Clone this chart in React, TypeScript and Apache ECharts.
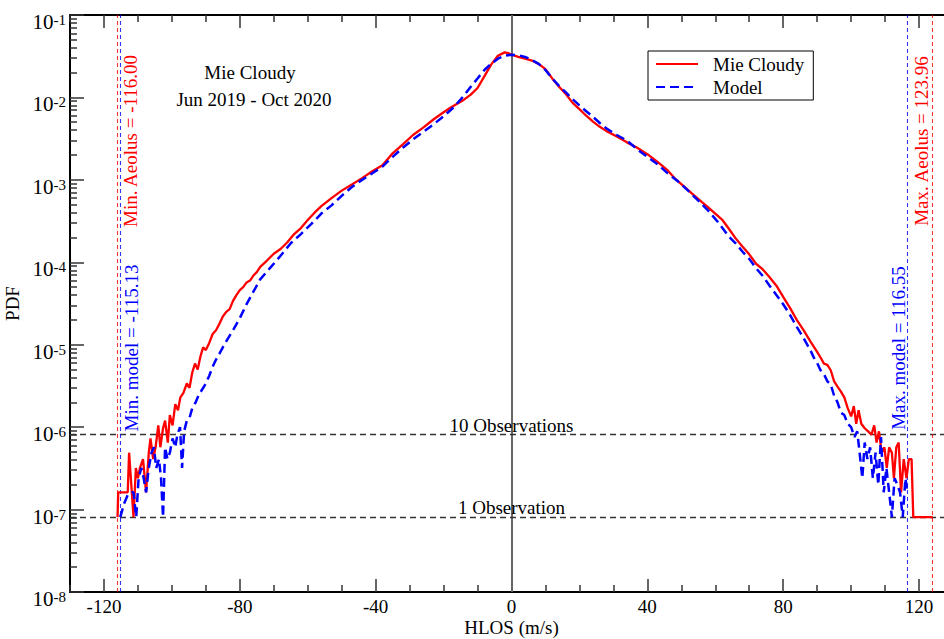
import React, { useEffect, useRef } from 'react';
import * as echarts from 'echarts';

const FONT = '"Liberation Serif", "Times New Roman", serif';

// [HLOS (m/s), PDF]
const mieCloudy: [number, number][] = [
  [-116.0, 8.1e-8], [-115.8, 1.62e-7], [-113.0, 1.62e-7], [-112.6, 4.9e-7], [-111.8, 1.62e-7], [-111.3, 8.1e-8],
  [-110.6, 3.2e-7], [-110.0, 2.4e-7], [-109.4, 3.2e-7], [-108.5, 4.1e-7], [-107.6, 1.62e-7], [-106.8, 4.9e-7],
  [-106.3, 7.3e-7], [-105.5, 4.1e-7], [-104.8, 5.7e-7], [-104.0, 1.05e-6], [-103.4, 5.7e-7], [-102.6, 9.7e-7],
  [-102.0, 1.2e-6], [-101.2, 6.5e-7], [-100.6, 1.4e-6], [-99.8, 1.05e-6], [-99.0, 1.9e-6], [-98.2, 1.6e-6],
  [-97.5, 2.3e-6], [-96.6, 2.6e-6], [-95.6, 3.4e-6], [-94.8, 3.0e-6], [-94.0, 4.6e-6], [-93.2, 5.9e-6],
  [-92.4, 5.0e-6], [-91.6, 7.2e-6], [-90.8, 9.3e-6], [-90.0, 8.6e-6], [-89.0, 1.05e-5], [-88.0, 1.35e-5],
  [-87.0, 1.5e-5], [-86.0, 1.8e-5], [-85.0, 2.2e-5], [-84.0, 2.5e-5], [-83.0, 2.7e-5], [-82.0, 3.4e-5],
  [-81.0, 4.0e-5], [-80.0, 4.6e-5], [-79.0, 5.0e-5], [-78.0, 5.7e-5], [-77.0, 6.0e-5], [-76.0, 6.9e-5],
  [-75.0, 7.6e-5], [-74.0, 8.8e-5], [-72.0, 1.05e-4], [-70.0, 1.27e-4], [-68.0, 1.45e-4], [-66.0, 1.75e-4],
  [-64.0, 2.2e-4], [-62.0, 2.6e-4], [-60.0, 3.25e-4], [-58.0, 4.0e-4], [-56.0, 4.8e-4], [-53.0, 6.0e-4],
  [-50.0, 7.4e-4], [-47.0, 8.8e-4], [-44.0, 1.05e-3], [-41.0, 1.27e-3], [-38.0, 1.5e-3], [-35.0, 2.1e-3],
  [-32.0, 2.7e-3], [-29.0, 3.5e-3], [-26.0, 4.3e-3], [-23.0, 5.4e-3], [-20.0, 6.6e-3], [-18.0, 7.5e-3],
  [-16.0, 8.4e-3], [-14.0, 9.4e-3], [-12.0, 1.08e-2], [-10.0, 1.3e-2], [-8.0, 1.8e-2], [-6.0, 2.5e-2],
  [-4.0, 3.2e-2], [-2.0, 3.52e-2], [-1.0, 3.45e-2], [0.0, 3.3e-2], [2.0, 3.1e-2], [4.0, 2.95e-2],
  [6.0, 2.8e-2], [8.0, 2.55e-2], [10.0, 2.2e-2], [12.0, 1.7e-2], [14.0, 1.35e-2], [16.0, 1.1e-2],
  [18.0, 8.6e-3], [20.0, 7.2e-3], [22.0, 6.0e-3], [24.0, 5.1e-3], [26.0, 4.4e-3], [28.0, 3.9e-3],
  [31.0, 3.35e-3], [34.0, 2.85e-3], [37.0, 2.45e-3], [40.0, 2.05e-3], [43.0, 1.65e-3], [46.0, 1.3e-3],
  [48.0, 1.05e-3], [50.0, 8.9e-4], [53.0, 6.9e-4], [56.0, 5.4e-4], [58.0, 4.6e-4], [60.0, 3.9e-4],
  [62.0, 3.3e-4], [64.0, 2.55e-4], [66.0, 1.95e-4], [68.0, 1.55e-4], [70.0, 1.25e-4], [72.0, 9.6e-5],
  [74.0, 8.2e-5], [76.0, 6.6e-5], [78.0, 5.2e-5], [80.0, 3.8e-5], [82.0, 2.8e-5], [84.0, 2.0e-5],
  [86.0, 1.5e-5], [88.0, 1.1e-5], [89.0, 9.5e-6], [90.0, 8.2e-6], [91.0, 7.0e-6], [92.0, 5.9e-6],
  [93.0, 5.7e-6], [94.0, 4.9e-6], [95.0, 3.6e-6], [96.0, 3.1e-6], [97.0, 2.7e-6], [98.0, 2.3e-6],
  [99.0, 1.7e-6], [100.0, 1.35e-6], [100.8, 1.8e-6], [101.5, 1.1e-6], [102.2, 1.6e-6], [103.0, 1.1e-6],
  [104.0, 9.7e-7], [105.0, 8.9e-7], [106.0, 8.1e-7], [106.8, 1.05e-6], [107.5, 6.5e-7], [108.2, 8.9e-7],
  [109.0, 4.9e-7], [109.8, 5.7e-7], [110.5, 3.2e-7], [111.2, 5.7e-7], [112.0, 4.9e-7], [112.6, 2.4e-7],
  [113.3, 5.7e-7], [114.0, 6.5e-7], [114.7, 1.62e-7], [115.5, 4.1e-7], [116.3, 2.4e-7], [117.0, 4.1e-7],
  [117.8, 4.1e-7], [118.3, 8.1e-8], [124.0, 8.1e-8],
];

const model: [number, number][] = [
  [-115.2, 8.1e-8], [-114.0, 1.2e-7], [-113.0, 1.5e-7], [-112.0, 1.62e-7], [-111.3, 1.62e-7], [-110.5, 8.1e-8],
  [-109.8, 2.4e-7], [-109.0, 3.2e-7], [-108.3, 2.4e-7], [-107.6, 1.62e-7], [-106.8, 3.2e-7], [-106.0, 4.9e-7],
  [-105.3, 5.7e-7], [-104.6, 3.2e-7], [-103.8, 4.1e-7], [-103.2, 2.4e-7], [-102.6, 8.1e-8], [-102.0, 5.7e-7],
  [-101.3, 4.1e-7], [-100.6, 4.9e-7], [-99.8, 7.3e-7], [-99.0, 5.7e-7], [-98.4, 8.1e-7], [-97.6, 1.0e-6],
  [-97.0, 3.2e-7], [-96.4, 8.9e-7], [-95.6, 1.2e-6], [-94.8, 1.3e-6], [-94.0, 1.7e-6], [-93.0, 2.0e-6],
  [-92.0, 2.5e-6], [-91.0, 2.9e-6], [-90.0, 3.4e-6], [-89.0, 4.2e-6], [-88.0, 5.4e-6], [-87.0, 6.6e-6],
  [-86.0, 7.8e-6], [-85.0, 9.3e-6], [-84.0, 1.1e-5], [-82.0, 1.5e-5], [-80.0, 2.1e-5], [-78.0, 3.1e-5],
  [-76.0, 4.4e-5], [-74.0, 6.2e-5], [-71.0, 8.6e-5], [-68.0, 1.2e-4], [-65.0, 1.7e-4], [-62.0, 2.2e-4],
  [-59.0, 2.9e-4], [-56.0, 3.9e-4], [-53.0, 4.9e-4], [-50.0, 6.4e-4], [-47.0, 8.2e-4], [-44.0, 1.0e-3],
  [-41.0, 1.2e-3], [-38.0, 1.45e-3], [-35.0, 1.9e-3], [-32.0, 2.45e-3], [-29.0, 3.1e-3], [-26.0, 3.8e-3],
  [-23.0, 4.7e-3], [-20.0, 5.9e-3], [-17.0, 7.6e-3], [-14.0, 1.05e-2], [-12.0, 1.35e-2], [-10.0, 1.7e-2],
  [-8.0, 2.15e-2], [-6.0, 2.55e-2], [-4.0, 2.95e-2], [-2.0, 3.2e-2], [0.0, 3.3e-2], [2.0, 3.25e-2],
  [4.0, 3.1e-2], [6.0, 2.85e-2], [8.0, 2.55e-2], [10.0, 2.15e-2], [12.0, 1.7e-2], [14.0, 1.38e-2],
  [16.0, 1.15e-2], [18.0, 9.5e-3], [20.0, 8.0e-3], [22.0, 6.8e-3], [24.0, 5.8e-3], [26.0, 4.9e-3],
  [28.0, 4.2e-3], [31.0, 3.5e-3], [34.0, 3.0e-3], [37.0, 2.35e-3], [40.0, 1.9e-3], [43.0, 1.55e-3],
  [46.0, 1.2e-3], [49.0, 9.6e-4], [52.0, 7.4e-4], [55.0, 5.6e-4], [58.0, 4.2e-4], [61.0, 3.0e-4],
  [64.0, 2.05e-4], [66.0, 1.7e-4], [68.0, 1.35e-4], [70.0, 1.1e-4], [72.0, 8.5e-5], [74.0, 6.8e-5],
  [76.0, 5.2e-5], [78.0, 4.0e-5], [80.0, 3.1e-5], [82.0, 2.3e-5], [84.0, 1.65e-5], [86.0, 1.2e-5],
  [88.0, 8.6e-6], [89.0, 7.0e-6], [90.0, 6.0e-6], [91.0, 4.9e-6], [92.0, 4.4e-6], [93.0, 3.6e-6],
  [94.0, 3.3e-6], [95.0, 2.4e-6], [96.0, 2.0e-6], [97.0, 1.5e-6], [98.0, 1.4e-6], [99.0, 1.1e-6],
  [100.0, 1.0e-6], [101.0, 7.6e-7], [101.8, 8.9e-7], [102.5, 4.9e-7], [103.3, 2.4e-7], [104.0, 6.5e-7],
  [104.8, 4.1e-7], [105.6, 5.7e-7], [106.4, 2.4e-7], [107.2, 4.9e-7], [108.0, 2.0e-7], [108.8, 7.6e-7],
  [109.6, 1.62e-7], [110.4, 3.2e-7], [111.2, 1.62e-7], [112.0, 8.1e-8], [112.8, 2.4e-7], [113.6, 2.0e-7],
  [114.4, 1.62e-7], [115.2, 8.1e-8], [116.0, 2.4e-7], [116.55, 1.62e-7],
];

const xMajorTicks = [-120, -80, -40, 0, 40, 80, 120];
const xMinorTicks = [-130, -110, -100, -90, -70, -60, -50, -30, -20, -10, 10, 20, 30, 50, 60, 70, 90, 100, 110, 130];
const yDecadeExponents = [-8, -7, -6, -5, -4, -3, -2, -1];
const yMinorMultipliers = [2, 3, 4, 5, 6, 7, 8, 9];

const obsLevels = [
  { value: 8.1e-7, label: '10 Observations' },
  { value: 8.1e-8, label: '1 Observation' },
];

const extremes = [
  { x: -116.0, text: 'Min. Aeolus = -116.00', color: '#ff0000', dx: 12.5, yc: 141 },
  { x: -115.13, text: 'Min. model = -115.13', color: '#0000ff', dx: 10.5, yc: 348 },
  { x: 116.55, text: 'Max. model = 116.55', color: '#0000ff', dx: -8.5, yc: 348 },
  { x: 123.96, text: 'Max. Aeolus = 123.96', color: '#ff0000', dx: -10.5, yc: 141 },
];

const X_TITLE = 'HLOS (m/s)';
const Y_TITLE = 'PDF';

const X_MIN = -130;
const X_MAX = 130;
const Y_MIN = 1e-8;
const Y_MAX = 1e-1;

export default function App() {
  const ref = useRef<HTMLDivElement>(null);

  useEffect(() => {
    document.body.style.margin = '0';
    if (!ref.current) return;
    const chart = echarts.init(ref.current, null, { renderer: 'svg' });

    const yMajor = yDecadeExponents.map((e, i) => {
      const v = Math.pow(10, e);
      if (i === 0) return v * 1.000001;
      if (i === yDecadeExponents.length - 1) return v * 0.999999;
      return v;
    });
    const yMinor: number[] = [];
    yDecadeExponents.slice(0, -1).forEach((e) => {
      yMinorMultipliers.forEach((m) => yMinor.push(m * Math.pow(10, e)));
    });

    const axisLineStyle = { color: '#000', width: 2 };
    const tickStyle = { color: '#333', width: 1.5 };

    const baseX = {
      type: 'value',
      min: X_MIN,
      max: X_MAX,
      splitLine: { show: false },
    };
    const baseY = {
      type: 'log',
      logBase: 10,
      min: Y_MIN,
      max: Y_MAX,
      splitLine: { show: false },
    };

    const option: any = {
      animation: false,
      backgroundColor: '#fff',
      grid: { left: 70, top: 15, width: 883, height: 577, containLabel: false, outerBoundsMode: 'none' },
      legend: {
        data: ['Mie Cloudy', 'Model'],
        orient: 'vertical',
        left: 648,
        top: 51,
        itemWidth: 42,
        itemHeight: 14,
        itemGap: 3,
        padding: [3, 9, 3, 7],
        borderColor: '#000',
        borderWidth: 1,
        backgroundColor: '#fff',
        itemStyle: { opacity: 0 },
        textStyle: { fontFamily: FONT, fontSize: 19, color: '#000', lineHeight: 20, padding: [0, 0, 0, 10] },
      },
      xAxis: [
        {
          ...baseX,
          position: 'bottom',
          axisLine: { show: true, onZero: false, lineStyle: axisLineStyle },
          axisTick: { show: true, inside: true, length: 13, lineStyle: tickStyle, customValues: xMajorTicks },
          axisLabel: { show: true, customValues: xMajorTicks, fontFamily: FONT, fontSize: 19, color: '#000', margin: 5 },
        },
        {
          ...baseX,
          position: 'bottom',
          axisLine: { show: false, onZero: false },
          axisTick: { show: true, inside: true, length: 7, lineStyle: tickStyle, customValues: xMinorTicks },
          axisLabel: { show: false },
        },
        {
          ...baseX,
          position: 'top',
          axisLine: { show: true, onZero: false, lineStyle: axisLineStyle },
          axisTick: { show: true, inside: true, length: 13, lineStyle: tickStyle, customValues: xMajorTicks },
          axisLabel: { show: false },
        },
        {
          ...baseX,
          position: 'top',
          axisLine: { show: false, onZero: false },
          axisTick: { show: true, inside: true, length: 7, lineStyle: tickStyle, customValues: xMinorTicks },
          axisLabel: { show: false },
        },
      ],
      yAxis: [
        {
          ...baseY,
          position: 'left',
          name: Y_TITLE,
          nameLocation: 'middle',
          nameGap: 41,
          nameRotate: 90,
          nameTextStyle: { fontFamily: FONT, fontSize: 19, color: '#000' },
          axisLine: { show: true, onZero: false, lineStyle: axisLineStyle },
          axisTick: { show: true, inside: true, length: 14, lineStyle: tickStyle, customValues: yMajor },
          axisLabel: {
            show: true,
            customValues: yMajor,
            margin: 4,
            padding: [15, 0, 0, 0],
            formatter: (v: number) => `{b|10}{s|${Math.round(Math.log10(v))}}`,
            rich: {
              b: { fontFamily: FONT, fontSize: 21, color: '#000', lineHeight: 20, verticalAlign: 'bottom' },
              s: { fontFamily: FONT, fontSize: 15, color: '#000', lineHeight: 6, verticalAlign: 'top' },
            },
          },
        },
        {
          ...baseY,
          position: 'left',
          axisLine: { show: false, onZero: false },
          axisTick: { show: true, inside: true, length: 7, lineStyle: tickStyle, customValues: yMinor },
          axisLabel: { show: false },
        },
      ],
      series: [
        {
          name: 'Mie Cloudy',
          type: 'line',
          xAxisIndex: 0,
          yAxisIndex: 0,
          data: mieCloudy,
          symbol: 'none',
          showSymbol: false,
          lineStyle: { color: '#ff0000', width: 2.3, type: 'solid' },
          itemStyle: { color: '#ff0000' },
          z: 3,
          markLine: {
            silent: true,
            symbol: ['none', 'none'],
            animation: false,
            z: 1,
            data: [
              [
                { coord: [0, Y_MIN], lineStyle: { color: '#666', width: 2, type: 'solid' }, label: { show: false } },
                { coord: [0, Y_MAX] },
              ],
              ...obsLevels.map((o) => [
                {
                  coord: [X_MIN, o.value],
                  lineStyle: { color: '#333', width: 1.3, type: [6, 4] },
                  label: {
                    show: true,
                    position: 'insideMiddleTop',
                    formatter: o.label,
                    fontFamily: FONT,
                    fontSize: 19,
                    color: '#000',
                    distance: 0,
                  },
                },
                { coord: [X_MAX, o.value] },
              ]),
              ...extremes.map((e) => [
                {
                  coord: [e.x, Y_MIN],
                  lineStyle: { color: e.color, width: 1.1, type: [4, 3], opacity: 0.8 },
                  label: { show: false },
                },
                { coord: [e.x, Y_MAX] },
              ]),
            ],
          },
        },
        {
          name: 'Model',
          type: 'line',
          xAxisIndex: 0,
          yAxisIndex: 0,
          data: model,
          symbol: 'none',
          showSymbol: false,
          lineStyle: { color: '#0000ff', width: 2.5, type: [9, 5] },
          itemStyle: { color: '#0000ff' },
          z: 4,
        },
      ],
    };

    chart.setOption(option);

    const zeroPx = chart.convertToPixel({ xAxisIndex: 0 }, 0) as number;
    const graphics: any[] = [
      {
        type: 'text',
        x: 250,
        y: 72,
        style: { text: 'Mie Cloudy', font: `19px ${FONT}`, fill: '#000', align: 'center', verticalAlign: 'middle' },
      },
      {
        type: 'text',
        x: 254,
        y: 99,
        style: { text: 'Jun 2019 - Oct 2020', font: `19px ${FONT}`, fill: '#000', align: 'center', verticalAlign: 'middle' },
      },
      {
        type: 'text',
        x: zeroPx,
        y: 627,
        style: { text: X_TITLE, font: `19px ${FONT}`, fill: '#000', align: 'center', verticalAlign: 'middle' },
      },
    ];
    extremes.forEach((e) => {
      const px = chart.convertToPixel({ xAxisIndex: 0 }, e.x) as number;
      graphics.push({
        type: 'text',
        x: px + e.dx,
        y: e.yc,
        rotation: Math.PI / 2,
        style: { text: e.text, font: `19px ${FONT}`, fill: e.color, align: 'center', verticalAlign: 'middle' },
      });
    });
    chart.setOption({ graphic: graphics });

    return () => chart.dispose();
  }, []);

  return (
    <div style={{ position: 'absolute', left: 0, top: 0, width: 944, height: 639, overflow: 'hidden', background: '#fff' }}>
      <div ref={ref} style={{ position: 'absolute', left: 0, top: 0, width: 970, height: 639 }} />
    </div>
  );
}
